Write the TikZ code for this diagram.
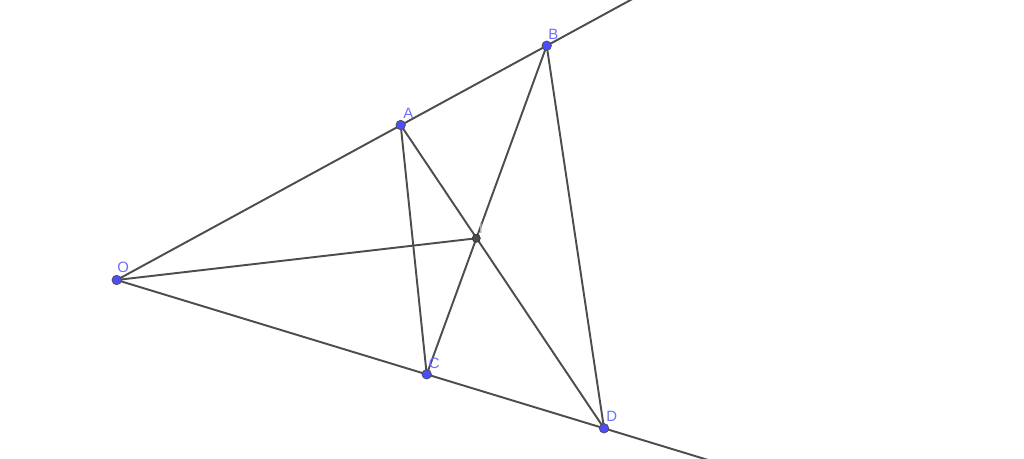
\documentclass[tikz,border=0pt]{standalone}
\usepackage{fontspec}
\setmainfont{Liberation Sans}
\usetikzlibrary{positioning, calc}
\definecolor{ptblue}{RGB}{77,77,255}
\definecolor{lblblue}{RGB}{110,110,255}
\definecolor{segray}{RGB}{77,77,77}

\begin{document}
\begin{tikzpicture}[x=0.02cm, y=-0.02cm,
    seg/.style={segray, line width=1.1pt},
    pt/.style={circle, fill=ptblue, draw=black!70, line width=0.4pt, inner sep=0pt, minimum size=5.4pt},
    ipt/.style={circle, fill=black!70, draw=black!80, line width=0.4pt, inner sep=0pt, minimum size=4.6pt},
    lbl/.style={lblblue, font=\fontsize{8.5}{10}\selectfont, inner sep=0pt},
    ilbl/.style={black!30, font=\fontsize{8.5}{10}\selectfont, inner sep=0pt}]
    \useasboundingbox (0,0) rectangle (1024,459);

    % Points of the figure
    \coordinate (O) at (116.7,280);
    \coordinate (A) at (400.7,125);
    \coordinate (B) at (546.7,45.7);
    \coordinate (C) at (426.7,374.3);
    \coordinate (D) at (604,428.3);
    \coordinate (I) at (476.3,238.3);

    % Ends of the two rays (past the edge of the page)
    \coordinate (rayB) at ($(O)!1.22!(B)$);
    \coordinate (rayD) at ($(O)!1.24!(D)$);

    % Draw the rays and segments
    \draw[seg] (O) -- (rayB);
    \draw[seg] (O) -- (rayD);
    \draw[seg] (A) -- (C);
    \draw[seg] (B) -- (D);
    \draw[seg] (A) -- (D);
    \draw[seg] (B) -- (C);
    \draw[seg] (O) -- (I);

    % Draw the points
    \foreach \p in {O, A, B, C, D} {
        \node[pt] (dot\p) at (\p) {};
    }
    \node[ipt] (dotI) at (I) {};

    % Add labels
    \node[lbl] (labO) at (123.3,267) {O};
    \node[lbl] (labA) at (408.3,113.3) {A};
    \node[lbl] (labB) at (553.3,34) {B};
    \node[lbl] (labC) at (434.3,363) {C};
    \node[lbl] (labD) at (611.7,416) {D};
    \node[ilbl] (labI) at (481,228.5) {I};
\end{tikzpicture}
\end{document}
